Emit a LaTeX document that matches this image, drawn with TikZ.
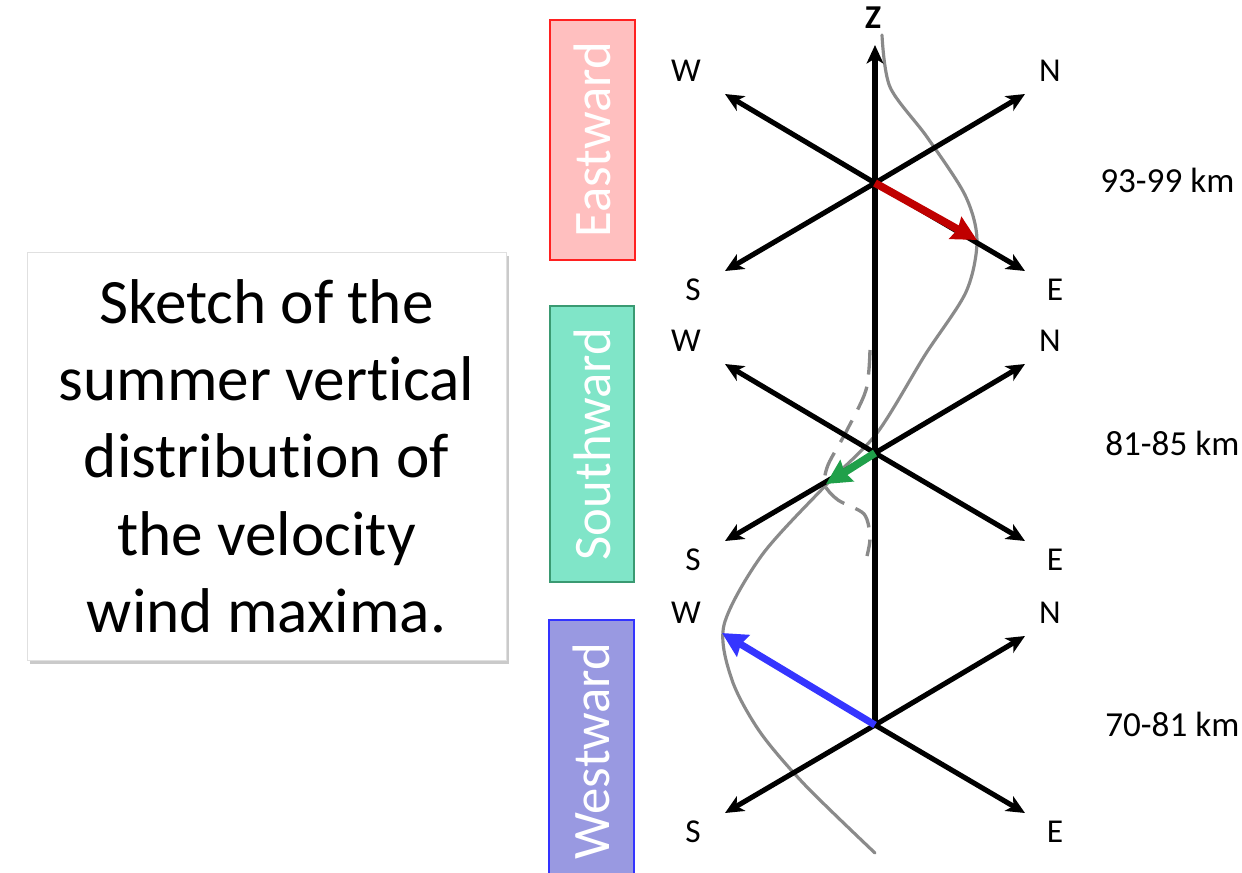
\documentclass[tikz,border=0pt]{standalone}
\usepackage{fontspec}
\setmainfont{Carlito}[RawFeature={-liga;-clig;-calt;-dlig}]
\usetikzlibrary{arrows.meta, positioning, shadows}
\definecolor{WM_RED}{HTML}{C00000}
\definecolor{WM_GREEN}{HTML}{20A04A}
\definecolor{WM_BLUE}{HTML}{3535FF}
\definecolor{WM_GREY}{HTML}{8A8A8A}
\definecolor{EAST_FILL}{HTML}{FFBFBF}
\definecolor{EAST_LINE}{HTML}{FF2020}
\definecolor{SOUTH_FILL}{HTML}{80E5C8}
\definecolor{SOUTH_LINE}{HTML}{3A9A72}
\definecolor{WEST_FILL}{HTML}{9999E1}
\definecolor{WEST_LINE}{HTML}{3333FF}
\tikzset{
  axis/.style={line width=2.9pt, color=black,
    -{Stealth[length=10.5pt, width=9.5pt, inset=2.8pt]}},
  wind/.style={line width=4.4pt,
    -{Stealth[length=14pt, width=14pt, inset=1.5pt]}},
  profile/.style={line width=1.8pt, color=WM_GREY, line cap=round},
  profdash/.style={line width=1.9pt, color=WM_GREY, dash pattern=on 14pt off 7pt},
  dirlab/.style={inner sep=0pt, font=\fontsize{19}{23}\selectfont},
  kmlab/.style={inner sep=0pt, anchor=west, font=\fontsize{20}{24}\selectfont},
  band/.style={
    rectangle, rotate=90, inner sep=0pt, line width=0.9pt,
    text=white, font=\fontsize{30}{34}\selectfont},
  note/.style={
    rectangle, draw=black!12, fill=white, align=center,
    minimum width=9.58cm, minimum height=8.16cm,
    drop shadow={shadow xshift=1.5pt, shadow yshift=-2.5pt, fill=black!35, opacity=0.6},
    font=\fontsize{36}{44}\selectfont},
}
\begin{document}
\begin{tikzpicture}[x=0.02cm, y=-0.02cm]

  \useasboundingbox (0,0) rectangle (1242,873);

  % caption box
  \node[note] (caption) at (266.5,456)
    {Sketch of the\\summer vertical\\distribu\kern0pt tion of\\the velocity\\wind maxima.};

  % direction bands
  \node[band, draw=EAST_LINE, fill=EAST_FILL,
        minimum width=4.8cm, minimum height=1.7cm] (east) at (592.5,140) {Eastward};
  \node[band, draw=SOUTH_LINE, fill=SOUTH_FILL,
        minimum width=5.52cm, minimum height=1.68cm] (south) at (592,444) {Southward};
  \node[band, draw=WEST_LINE, fill=WEST_FILL,
        minimum width=5.24cm, minimum height=1.7cm] (west) at (591.5,751) {Westward};

  % compass points at each height
  \foreach \lv/\cy in {top/183, mid/453, low/725} {
    \coordinate (\lv-c) at (875,\cy);
    \coordinate (\lv-w) at (725,{\cy-89});
    \coordinate (\lv-n) at (1025,{\cy-89});
    \coordinate (\lv-s) at (725,{\cy+88});
    \coordinate (\lv-e) at (1025,{\cy+88});
    \node[dirlab] (\lv-W) at (686,{\cy-112}) {W};
    \node[dirlab] (\lv-N) at (1050,{\cy-112}) {N};
    \node[dirlab] (\lv-S) at (693,{\cy+107}) {S};
    \node[dirlab] (\lv-E) at (1055,{\cy+107}) {E};
  }
  \coordinate (ztip) at (875,45);
  \node[inner sep=0pt, font=\fontsize{19}{23}\selectfont\bfseries] (zlab) at (873,18) {Z};

  % wind profile
  \draw[profile] plot[smooth] coordinates {
    (882,35) (890,87) (927,137) (965,195) (977,240) (966,292) (925,355)
    (877,433) (826,485) (762,555) (724,625) (732,680) (760,732) (805,785) (875,853)};
  \draw[profdash] plot[smooth] coordinates {
    (870,350) (866,390) (846,432) (828,465) (825,485)
    (838,500) (864,514) (870,537) (867,556)};

  % axes
  \draw[axis] (low-c) -- (ztip);
  \draw[axis] (top-c) -- (top-w);
  \draw[axis] (mid-c) -- (mid-w);
  \foreach \lv in {top, mid, low} {
    \draw[axis] (\lv-c) -- (\lv-n);
    \draw[axis] (\lv-c) -- (\lv-s);
    \draw[axis] (\lv-c) -- (\lv-e);
  }

  % wind maxima
  \coordinate (east-max) at (977,240);
  \coordinate (south-max) at (826,484);
  \coordinate (west-max) at (722,633);
  \draw[wind, WM_RED]   (top-c) -- (east-max);
  \draw[wind, WM_GREEN] (mid-c) -- (south-max);
  \draw[wind, WM_BLUE, line width=4pt] (low-c) -- (west-max);

  % heights
  \node[kmlab] (km-top) at (1100,180) {93-99 km};
  \node[kmlab] (km-mid) at (1105,443) {81-85 km};
  \node[kmlab] (km-low) at (1105,724) {70-81 km};

\end{tikzpicture}
\end{document}
